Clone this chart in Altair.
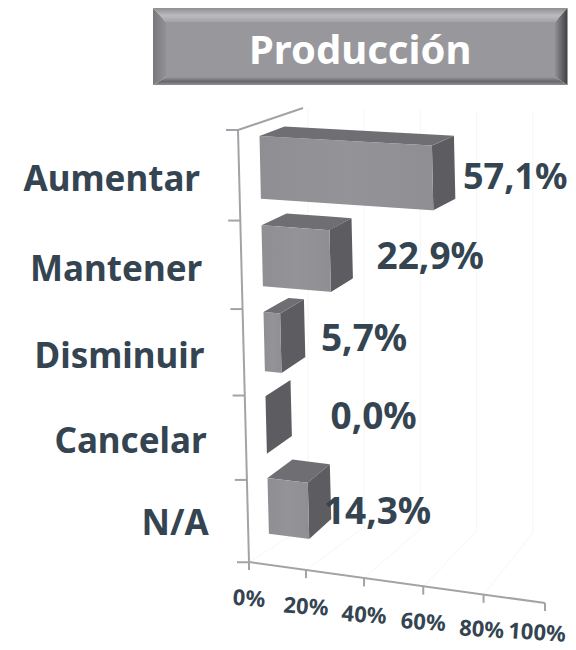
import altair as alt
import pandas as pd

# ---- data ----
categories = ["Aumentar", "Mantener", "Disminuir", "Cancelar", "N/A"]
values = [57.1, 22.9, 5.7, 0.0, 14.3]
value_labels = ["57,1%", "22,9%", "5,7%", "0,0%", "14,3%"]
tick_values = [0, 20, 40, 60, 80, 100]
tick_labels = ["0%", "20%", "40%", "60%", "80%", "100%"]
title_text = "Producción"

# ---- style / layout ----
INK = "#344451"
AXIS = "#a1a4a7"
W, H = 560, 642
FONT = "Noto Sans"
BAND = 0.7                               # bar height in row units
label_dx = [9, 25, 17, 40, -6]           # value label nudge from bar end
label_base = [189, 269, 351, 429, 524]   # value label baselines
label_size = [36, 37, 37, 37, 37]
tick_dx = [0, 0, 0, 0, -2, -8]           # keeps the last tick label inside the page
tick_dy = [37, 37, 37, 36, 35, 30]

xs = alt.X("x:Q", scale=alt.Scale(domain=[8, 8 + W], range=[0, W], nice=False, zero=False), axis=None)
ys = alt.Y("y:Q", scale=alt.Scale(domain=[8, 8 + H], range=[0, H], nice=False, zero=False), axis=None)


# ---- 3D projection of (value, row, depth) to the picture plane ----
def row_y(r):
    return 136 + 90.5 * r - 1.25 * r * r


def project(v, r, d):
    y0 = row_y(r)
    slope = 0.03 + 0.000185 * y0
    k = 3.02 - 0.05 * int(r)
    sx = 259.5 + 2 * r + k * v
    sy = y0 + slope * k * v
    return (sx + d * (25 - 3 * min(v / 14, 1)), sy - d * (6.0 + 0.026 * sy))


def axis_point(v):
    return (249 + 2.82 * v + 0.0014 * v * v, 562 + 0.41 * v)


def wall_y(r):
    return 130 + 91.6 * r - 1.03 * r * r


def stops(poly):
    xvals = sorted({round(p[0], 3) for p in poly})
    rows = []
    n = len(poly)
    for x in xvals:
        hits = []
        for i in range(n):
            (a, b), (c, d) = poly[i], poly[(i + 1) % n]
            lo, hi = min(a, c), max(a, c)
            if lo - 1e-3 <= x <= hi + 1e-3:
                if abs(c - a) < 1e-6:
                    hits += [b, d]
                else:
                    hits.append(b + (d - b) * (x - a) / (c - a))
        rows.append({"x": x, "y": min(hits), "y2": max(hits)})
    return pd.DataFrame(rows)


def face(poly, color):
    return alt.Chart(stops(poly)).mark_area(color=color, line=False, interpolate="linear").encode(
        x=xs, y=ys, y2="y2:Q"
    )


def seg(x1, y1, x2, y2, color=AXIS, width=2.0):
    df = pd.DataFrame([{"x": x1, "y": y1, "x2": x2, "y2": y2}])
    return alt.Chart(df).mark_rule(color=color, strokeWidth=width).encode(x=xs, y=ys, x2="x2:Q", y2="y2:Q")


def grad(stops_, x2=0, y2=1):
    return alt.Gradient(
        gradient="linear", x1=0, y1=0, x2=x2, y2=y2,
        stops=[alt.GradientStop(offset=o, color=c) for o, c in stops_],
    )


def text(x, y, s, size, color=INK, align="left", angle=0):
    df = pd.DataFrame([{"x": x, "y": y, "t": s}])
    return alt.Chart(df).mark_text(
        font=FONT, fontWeight="bold", fontSize=size, color=color, align=align,
        baseline="alphabetic", angle=angle,
    ).encode(x=xs, y=ys, text="t:N")


layers = []

# title plate with bevel
L, R, T, B = 153, 567.5, 8, 85
IL, IR, IT, IB = 166, 555, 22, 77
layers.append(face([(L, T), (R, T), (IR, IT), (IL, IT)],
                   grad([(0, "#8f8f93"), (0.55, "#bcbcbf"), (1, "#a2a2a6")])))
layers.append(face([(L, B), (R, B), (IR, IB), (IL, IB)],
                   grad([(0, "#98989c"), (0.55, "#68686c"), (1, "#909094")])))
layers.append(face([(L, T), (IL, IT), (IL, IB), (L, B)],
                   grad([(0, "#78787c"), (1, "#929296")], x2=1, y2=0)))
layers.append(face([(R, T), (IR, IT), (IR, IB), (R, B)],
                   grad([(0, "#929296"), (1, "#3f3f43")], x2=1, y2=0)))
layers.append(face([(IL, IT), (IR, IT), (IR, IB), (IL, IB)], "#98989c"))
layers.append(text(249, 64, title_text, 40, color="white"))

# faint gridlines of the back wall and floor
GRID = "#f6f6f6"
for v in tick_values[:-1]:
    bx = 308 + 2.81 * v
    layers.append(seg(bx, 108 + 0.05 * v, bx, 525 + 0.1 * v, GRID, 1))
    ax, ay = axis_point(v)
    layers.append(seg(ax, ay, bx, 525 + 0.1 * v, GRID, 1))

# axes
layers.append(seg(238, 130, 249, 562))
layers.append(seg(238, 130, 303, 108))
for r in range(6):
    ax = 238 + 2.2 * r
    layers.append(seg(ax - 12, wall_y(r), ax, wall_y(r)))
a0, a1 = axis_point(0), axis_point(100)
layers.append(seg(a0[0], a0[1], a1[0], a1[1]))
for v, lab in zip(tick_values, tick_labels):
    ax, ay = axis_point(v)
    layers.append(seg(ax, ay, ax, ay + 8))

# bars
FRONT = grad([(0, "#8f8f93"), (0.5, "#949498"), (1, "#8f8f93")], x2=1, y2=0)
TOP = "#6f6e73"
SIDE = "#5d5c61"
for r, v in enumerate(values):
    ftl = project(0, r, 0)
    ftr = project(v, r, 0)
    fbl = project(0, r + BAND, 0)
    fbr = project(v, r + BAND, 0)
    btl = project(0, r, 1)
    btr = project(v, r, 1)
    bbr = project(v, r + BAND, 1)
    layers.append(face([ftr, btr, bbr, fbr], SIDE))
    if v > 0:
        layers.append(face([ftl, btl, btr, ftr], TOP))
        layers.append(face([ftl, ftr, fbr, fbl], FRONT))

# category labels
for r, c in enumerate(categories):
    layers.append(text(200 + 2.2 * r, 191 + 91 * r - 1.25 * r * r, c, 35, align="right"))

# value labels
for r, (v, s) in enumerate(zip(values, value_labels)):
    ex = project(v, r, 1)[0]
    layers.append(text(ex + label_dx[r], label_base[r], s, label_size[r]))

# tick labels
for i, (v, lab) in enumerate(zip(tick_values, tick_labels)):
    ax, ay = axis_point(v)
    df = pd.DataFrame([{"x": ax + tick_dx[i], "y": ay + tick_dy[i], "t": lab}])
    layers.append(alt.Chart(df).mark_text(
        font=FONT, fontWeight="bold", fontSize=22, color=INK, align="center",
        baseline="middle", angle=4,
    ).encode(x=xs, y=ys, text="t:N"))

chart = alt.layer(*layers).properties(
    width=W, height=H, padding=0, autosize=alt.AutoSizeParams(type="none"),
).configure_view(stroke=None)

chart.save("out.html", embed_options={"renderer": "svg", "actions": False})
